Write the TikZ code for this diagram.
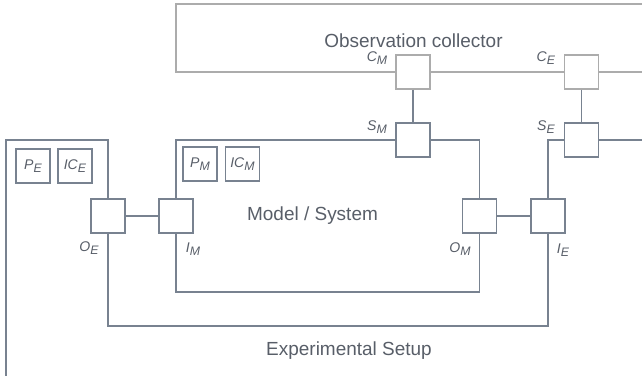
\documentclass[tikz,border=0pt]{standalone}
\usepackage{fontspec}
\setmainfont{Liberation Sans}
\usetikzlibrary{positioning}
\definecolor{slate}{RGB}{120,130,144}
\definecolor{pale}{RGB}{172,172,172}
\definecolor{ink}{RGB}{88,94,104}
\newcommand{\portlbl}[2]{\textit{#1}\raisebox{-0.35ex}{\scriptsize\textit{#2}}}
\tikzset{%
	port/.style   = {draw=slate, line width=0.6pt, fill=white, minimum size=0.68cm, inner sep=0pt},
	cport/.style  = {port, draw=pale},
	param/.style  = {draw=slate, line width=0.6pt, minimum size=0.68cm, inner sep=0pt, font=\footnotesize, text=ink},
	plbl/.style   = {font=\footnotesize, text=ink, inner sep=0pt},
	title/.style  = {font=\fontsize{10.8}{12}\selectfont, text=ink},
	wire/.style   = {draw=slate, line width=0.6pt},
	cwire/.style  = {draw=pale, line width=0.6pt},
}

\begin{document}
\begin{tikzpicture}[x=0.02cm, y=-0.02cm]
	\useasboundingbox (0,0) rectangle (642,376);
	
	% ports
	\node[cport] (cm) at (413,72) {};
	\node[cport] (ce) at (581.5,72) {};
	\node[port] (sm) at (413,140) {};
	\node[port] (se) at (581.5,140) {};
	\node[port] (oe) at (108,216) {};
	\node[port] (im) at (176,216) {};
	\node[port] (om) at (479.5,216) {};
	\node[port] (ie) at (548,216) {};
	
	% parameters and initial conditions
	\node[param] (pe) at (33,166) {\portlbl{P}{E}};
	\node[param] (ice) at (75,166) {\portlbl{IC}{E}};
	\node[param] (pm) at (200,164) {\portlbl{P}{M}};
	\node[param] (icm) at (242.5,164) {\portlbl{IC}{M}};
	
	% port labels
	\node[plbl] (cmlbl) at (377,58) {\portlbl{C}{M}};
	\node[plbl] (smlbl) at (377,127) {\portlbl{S}{M}};
	\node[plbl] (celbl) at (546,58) {\portlbl{C}{E}};
	\node[plbl] (selbl) at (546,127) {\portlbl{S}{E}};
	\node[plbl] (oelbl) at (89,248) {\portlbl{O}{E}};
	\node[plbl] (imlbl) at (193,249) {\portlbl{I}{M}};
	\node[plbl] (omlbl) at (460,249) {\portlbl{O}{M}};
	\node[plbl] (ielbl) at (563,250) {\portlbl{I}{E}};
	
	% titles
	\node[title] (obs) at (413.5,41) {Observation collector};
	\node[title] (model) at (312.5,216) {Model / System};
	\node[title] (exp) at (349,351) {Experimental Setup};
	
	% observation collector
	\draw[cwire] (cm.west) -- (176,72) -- (176,4) -- (642,4);
	\draw[cwire] (cm.east) -- (ce.west);
	\draw[cwire] (ce.east) -- (642,72);
	\draw[wire] (cm) -- (sm);
	\draw[wire] (ce) -- (se);
	
	% model / system
	\draw[wire] (im.north) |- (sm.west);
	\draw[wire] (sm.east) -| (om.north);
	\draw[wire] (om.south) -- (479.5,292) -| (im.south);
	\draw[wire] (oe) -- (im);
	\draw[wire] (om) -- (ie);
	
	% experimental setup
	\draw[wire] (oe.north) |- (6,140) -- (6,376);
	\draw[wire] (oe.south) -- (108,326) -| (ie.south);
	\draw[wire] (ie.north) |- (se.west);
	\draw[wire] (se.east) -- (642,140);
\end{tikzpicture}
\end{document}
